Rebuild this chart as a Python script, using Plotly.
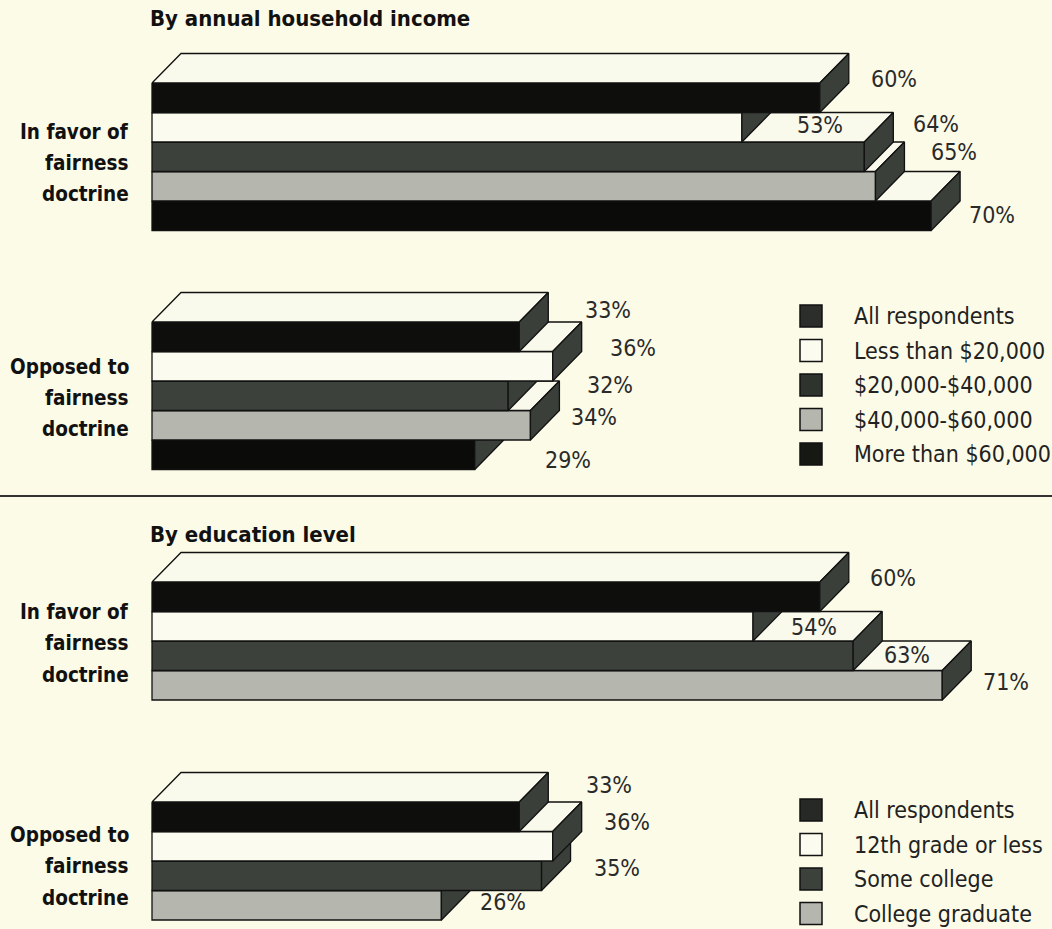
import plotly.graph_objects as go

# ---------------- DATA ----------------
income_series = ["All respondents", "Less than $20,000", "$20,000-$40,000",
                 "$40,000-$60,000", "More than $60,000"]
income_favor = [60, 53, 64, 65, 70]
income_opposed = [33, 36, 32, 34, 29]

edu_series = ["All respondents", "12th grade or less", "Some college", "College graduate"]
edu_favor = [60, 54, 63, 71]
edu_opposed = [33, 36, 35, 26]

group_labels = ["In favor of", "fairness", "doctrine"]
group_labels_opp = ["Opposed to", "fairness", "doctrine"]
panel_titles = ["By annual household income", "By education level"]

# ---------------- STYLE / LAYOUT ----------------
W, H = 1052, 929
PX_PER_PCT = 11.13
X0PX = 152
BAR_H = 29.5
DY = 29.5
DEPTH = 29 / PX_PER_PCT
BG = "#fcfbe7"
TOP_C = "#f9f9ec"
SIDE_C = "#3a3f3a"
EDGE = "#111111"

income_colors = ["#0e0f0c", "#fbfbef", "#3c413c", "#b5b7ae", "#0b0c09"]
income_swatch = ["#2b2e2a", "#fbfbef", "#2f332e", "#b5b7ae", "#161814"]
edu_colors = ["#0e0f0c", "#fbfbef", "#3c413c", "#b5b7ae"]
edu_swatch = ["#262925", "#fbfbef", "#3c413c", "#b5b7ae"]

# label offsets (px) relative to bar end / bar centre
inc_fav_off = [(74, -19), (78, -2), (72, -33), (79, -34), (61, -1)]
inc_opp_off = [(89, -27), (80, -18), (102, -11), (64, -8), (93, 5)]
edu_fav_off = [(73, -19), (61, 1), (54, -1), (64, -3)]
edu_opp_off = [(90, -32), (74, -24), (75, -8), (62, -3)]

groups = [
    dict(values=income_favor, colors=income_colors, top=83, offs=inc_fav_off,
         labels=group_labels, label_y=[132, 163, 194]),
    dict(values=income_opposed, colors=income_colors, top=322, offs=inc_opp_off,
         labels=group_labels_opp, label_y=[367, 398, 429]),
    dict(values=edu_favor, colors=edu_colors, top=582, offs=edu_fav_off,
         labels=group_labels, label_y=[612, 643, 675]),
    dict(values=edu_opposed, colors=edu_colors, top=802, offs=edu_opp_off,
         labels=group_labels_opp, label_y=[835, 866, 898]),
]

NARROW = "Liberation Sans Narrow, DejaVu Sans Condensed, Arial Narrow, sans-serif"

fig = go.Figure()


def poly(xs, ys, fill):
    fig.add_trace(go.Scatter(
        x=xs + [xs[0]], y=ys + [ys[0]], mode="lines", fill="toself",
        fillcolor=fill, line=dict(color=EDGE, width=1.3),
        hoverinfo="skip", showlegend=False))


annotations = []
for g in groups:
    vals = g["values"]
    n = len(vals)
    # draw from bottom bar to top bar so upper bars sit in front
    for i in reversed(range(n)):
        v = vals[i]
        t = g["top"] + i * BAR_H
        b = t + BAR_H
        poly([0, v, v, 0], [t, t, b, b], g["colors"][i])
        poly([0, v, v + DEPTH, DEPTH], [t, t, t - DY, t - DY], TOP_C)
        poly([v, v + DEPTH, v + DEPTH, v], [t, t - DY, b - DY, b], SIDE_C)
    for i, v in enumerate(vals):
        ox, oy = g["offs"][i]
        annotations.append(dict(
            x=v, y=g["top"] + (i + 0.5) * BAR_H, xref="x", yref="y",
            text=f"{v}%", showarrow=False, xshift=ox, yshift=-oy,
            xanchor="center", yanchor="middle",
            font=dict(family=NARROW, size=23, color="#2a2a2a")))
    for txt, ly in zip(g["labels"], g["label_y"]):
        annotations.append(dict(
            x=131 / W, y=ly, xref="paper", yref="y", text=txt, showarrow=False,
            xanchor="right", yanchor="middle",
            font=dict(family=NARROW, size=20.5, color="#111", weight="bold")))

# panel titles
for title, ty in zip(panel_titles, [18, 534]):
    annotations.append(dict(
        x=148 / W, y=ty, xref="paper", yref="y", text=title, showarrow=False,
        xanchor="left", yanchor="middle",
        font=dict(family=NARROW, size=22, color="#111", weight="bold")))

shapes = []
# legends
for names, sw, y0 in [(income_series, income_swatch, 316), (edu_series, edu_swatch, 810)]:
    for i, (nm, c) in enumerate(zip(names, sw)):
        yc = y0 + i * 34.5
        shapes.append(dict(type="rect", xref="paper", yref="y",
                           x0=800 / W, x1=822 / W, y0=yc - 11, y1=yc + 11,
                           fillcolor=c, line=dict(color=EDGE, width=1.5)))
        annotations.append(dict(
            x=852 / W, y=yc, xref="paper", yref="y", text=nm, showarrow=False,
            xanchor="left", yanchor="middle",
            font=dict(family=NARROW, size=23, color="#222")))

# separator
shapes.append(dict(type="line", xref="paper", yref="y", x0=0, x1=1, y0=496, y1=496,
                   line=dict(color="#333", width=2)))

fig.update_layout(
    width=W, height=H, margin=dict(l=0, r=0, t=0, b=0),
    paper_bgcolor=BG, plot_bgcolor=BG, showlegend=False,
    xaxis=dict(range=[-X0PX / PX_PER_PCT, (W - X0PX) / PX_PER_PCT], visible=False,
               fixedrange=True),
    yaxis=dict(range=[H, 0], visible=False, fixedrange=True),
    annotations=annotations, shapes=shapes, hovermode=False,
)

fig.write_html("out.html")
